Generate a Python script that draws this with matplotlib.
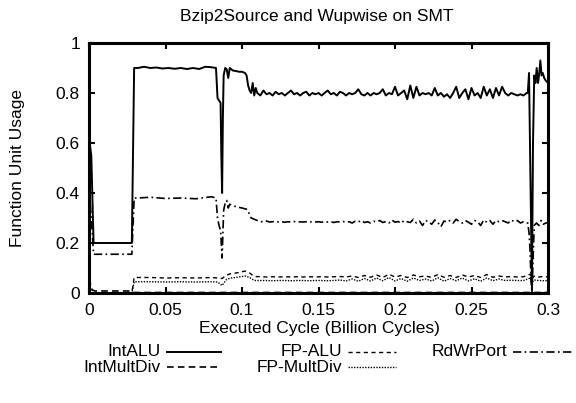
import numpy as np
import matplotlib
matplotlib.use("Agg")
import matplotlib.pyplot as plt
from matplotlib.lines import Line2D

plt.rcParams['font.family'] = ['Liberation Sans', 'DejaVu Sans']

title = "Bzip2Source and Wupwise on SMT"
xlabel = "Executed Cycle (Billion Cycles)"
ylabel = "Function Unit Usage"
xticks = [0, 0.05, 0.1, 0.15, 0.2, 0.25, 0.3]
xticklabels = ["0", "0.05", "0.1", "0.15", "0.2", "0.25", "0.3"]
yticks = [0, 0.2, 0.4, 0.6, 0.8, 1.0]
yticklabels = ["0", "0.2", "0.4", "0.6", "0.8", "1"]

# ---- IntALU ----
intalu_head_x = [0, 0.0015, 0.003, 0.028, 0.0295, 0.032, 0.036, 0.040, 0.044, 0.048,
                 0.052, 0.056, 0.060, 0.064, 0.068, 0.072, 0.076, 0.080, 0.083, 0.084,
                 0.086, 0.0865, 0.087, 0.0875, 0.088, 0.089, 0.090, 0.091, 0.092, 0.094,
                 0.096, 0.098, 0.100, 0.102, 0.103, 0.104, 0.105, 0.106, 0.107, 0.108, 0.109]
intalu_head_y = [0.62, 0.55, 0.20, 0.20, 0.90, 0.90, 0.905, 0.90, 0.902, 0.898,
                 0.90, 0.897, 0.90, 0.896, 0.90, 0.896, 0.905, 0.903, 0.90, 0.78,
                 0.76, 0.55, 0.40, 0.70, 0.87, 0.90, 0.895, 0.86, 0.90, 0.89,
                 0.888, 0.885, 0.885, 0.88, 0.87, 0.83, 0.81, 0.80, 0.84, 0.79, 0.82]
mid_x = np.round(np.arange(0.110, 0.2861, 0.002), 4)
intalu_mid_y = [0.80, 0.79, 0.81, 0.795, 0.80, 0.79, 0.805, 0.795, 0.80, 0.79,
                0.80, 0.81, 0.795, 0.80, 0.79, 0.80, 0.805, 0.79, 0.80, 0.795,
                0.80, 0.79, 0.80, 0.81, 0.795, 0.80, 0.79, 0.805, 0.80, 0.79,
                0.80, 0.795, 0.80, 0.815, 0.795, 0.79, 0.80, 0.79, 0.80, 0.795,
                0.80, 0.815, 0.79, 0.80, 0.795, 0.825, 0.79, 0.80, 0.81, 0.775,
                0.83, 0.78, 0.825, 0.79, 0.80, 0.795, 0.80, 0.79, 0.82, 0.79,
                0.80, 0.785, 0.795, 0.78, 0.80, 0.825, 0.78, 0.80, 0.815, 0.775,
                0.82, 0.79, 0.80, 0.78, 0.825, 0.79, 0.815, 0.78, 0.82, 0.79,
                0.825, 0.80, 0.79, 0.80, 0.795, 0.79, 0.795, 0.79, 0.80]
intalu_tail_x = [0.2868, 0.2876, 0.2882, 0.2895, 0.2902, 0.291, 0.2918, 0.2926, 0.2935,
                 0.2943, 0.295, 0.2958, 0.2966, 0.2975, 0.2985, 0.300]
intalu_tail_y = [0.80, 0.88, 0.60, 0.02, 0.60, 0.87, 0.84, 0.90, 0.84, 0.88,
                 0.93, 0.87, 0.88, 0.86, 0.85, 0.84]

# ---- RdWrPort ----
rdwr_head_x = [0, 0.0015, 0.003, 0.028, 0.0295, 0.032, 0.040, 0.050, 0.060, 0.070,
               0.080, 0.083, 0.084, 0.085, 0.086, 0.087, 0.0875, 0.088, 0.089, 0.090,
               0.091, 0.092, 0.094, 0.096, 0.100, 0.103, 0.104, 0.105, 0.106, 0.108]
rdwr_head_y = [0.42, 0.30, 0.155, 0.155, 0.38, 0.38, 0.383, 0.378, 0.38, 0.377,
               0.385, 0.38, 0.30, 0.27, 0.25, 0.14, 0.24, 0.33, 0.36, 0.37,
               0.34, 0.355, 0.35, 0.345, 0.34, 0.335, 0.33, 0.31, 0.30, 0.295]
rdwr_mid_y = [0.29, 0.285, 0.285, 0.288, 0.284, 0.285, 0.287, 0.284, 0.285, 0.283,
              0.285, 0.284, 0.286, 0.283, 0.285, 0.284, 0.285, 0.283, 0.286, 0.284,
              0.285, 0.283, 0.286, 0.284, 0.285, 0.282, 0.285, 0.284, 0.286, 0.283,
              0.285, 0.28, 0.287, 0.284, 0.29, 0.282, 0.285, 0.28, 0.287, 0.284,
              0.29, 0.282, 0.286, 0.28, 0.292, 0.283, 0.286, 0.279, 0.29, 0.285,
              0.282, 0.295, 0.28, 0.288, 0.27, 0.29, 0.285, 0.275, 0.292, 0.282,
              0.265, 0.288, 0.283, 0.29, 0.28, 0.295, 0.285, 0.28, 0.29, 0.283,
              0.275, 0.29, 0.285, 0.27, 0.292, 0.283, 0.29, 0.275, 0.29, 0.285,
              0.29, 0.285, 0.28, 0.292, 0.285, 0.29, 0.28, 0.285, 0.28]
rdwr_tail_x = [0.2868, 0.2876, 0.2882, 0.2889, 0.2895, 0.2903, 0.291, 0.2925, 0.294,
               0.2955, 0.297, 0.2985, 0.300]
rdwr_tail_y = [0.28, 0.24, 0.18, 0.05, 0.0, 0.15, 0.27, 0.28, 0.27, 0.29, 0.275, 0.28, 0.28]

# ---- bottom series ----
low_head_x = [0, 0.002, 0.004, 0.028, 0.0295, 0.040, 0.050, 0.060, 0.070, 0.080,
              0.084, 0.087, 0.090, 0.093, 0.096, 0.099, 0.102, 0.105, 0.108]
fpalu_head_y = [0.0, 0.0, 0.0, 0.0, 0.062, 0.062, 0.060, 0.061, 0.060, 0.062,
                0.060, 0.058, 0.072, 0.078, 0.080, 0.083, 0.088, 0.080, 0.066]
fpmul_head_y = [0.0, 0.0, 0.0, 0.0, 0.045, 0.045, 0.044, 0.045, 0.044, 0.045,
                0.044, 0.030, 0.055, 0.060, 0.062, 0.065, 0.068, 0.062, 0.050]
intmul_head_y = [0.06, 0.012, 0.008, 0.008, 0.002, 0.002, 0.002, 0.002, 0.002, 0.002,
                 0.002, 0.002, 0.002, 0.002, 0.002, 0.002, 0.002, 0.002, 0.002]
low_x = np.round(np.arange(0.112, 0.2861, 0.004), 4)
fpalu_low_y = [0.065, 0.064, 0.065, 0.064, 0.065, 0.064, 0.065, 0.064, 0.065, 0.064,
               0.065, 0.064, 0.065, 0.066, 0.064, 0.068, 0.062, 0.070, 0.063, 0.072,
               0.062, 0.075, 0.064, 0.070, 0.062, 0.072, 0.065, 0.068, 0.062, 0.074,
               0.063, 0.070, 0.062, 0.072, 0.064, 0.070, 0.062, 0.074, 0.063, 0.068,
               0.064, 0.066, 0.064, 0.065]
fpmul_low_y = [0.050, 0.050, 0.049, 0.050, 0.050, 0.049, 0.050, 0.050, 0.049, 0.050,
               0.050, 0.049, 0.050, 0.052, 0.048, 0.056, 0.047, 0.058, 0.048, 0.060,
               0.049, 0.062, 0.048, 0.058, 0.047, 0.060, 0.050, 0.056, 0.048, 0.061,
               0.047, 0.058, 0.049, 0.060, 0.048, 0.057, 0.047, 0.060, 0.049, 0.056,
               0.050, 0.051, 0.050, 0.050]
intmul_low_y = [0.002] * 44
low_tail_x = [0.2885, 0.2895, 0.291, 0.294, 0.297, 0.300]
fpalu_tail_y = [0.075, 0.055, 0.068, 0.064, 0.066, 0.064]
fpmul_tail_y = [0.060, 0.040, 0.052, 0.050, 0.049, 0.050]
intmul_tail_y = [0.002, 0.002, 0.002, 0.002, 0.002, 0.002]

series_names = ["IntALU", "IntMultDiv", "FP-ALU", "FP-MultDiv", "RdWrPort"]

W, H = 576, 403
FS = 12.5
fig = plt.figure(figsize=(5.76, 4.03), dpi=100)
ax = fig.add_axes([89/W, 1 - 293/H, 459/W, 250/H])

def cat(*parts):
    return np.concatenate([np.asarray(p, dtype=float) for p in parts])

x_alu = cat(intalu_head_x, mid_x, intalu_tail_x)
y_alu = cat(intalu_head_y, intalu_mid_y, intalu_tail_y)
x_rd = cat(rdwr_head_x, mid_x, rdwr_tail_x)
y_rd = cat(rdwr_head_y, rdwr_mid_y, rdwr_tail_y)
x_low = cat(low_head_x, low_x, low_tail_x)

styles = {
    "IntALU": dict(ls='-', lw=1.4),
    "IntMultDiv": dict(ls=(0, (4, 2.5)), lw=1.2),
    "FP-ALU": dict(ls=(0, (3, 2.5)), lw=1.0),
    "FP-MultDiv": dict(ls=(0, (1, 1)), lw=1.0),
    "RdWrPort": dict(ls=(0, (5, 2, 1, 2)), lw=1.2),
}

ax.plot(x_alu, y_alu, color='black', **styles["IntALU"])
ax.plot(x_low, cat(intmul_head_y, intmul_low_y, intmul_tail_y), color='black', **styles["IntMultDiv"])
ax.plot(x_low, cat(fpalu_head_y, fpalu_low_y, fpalu_tail_y), color='black', **styles["FP-ALU"])
ax.plot(x_low, cat(fpmul_head_y, fpmul_low_y, fpmul_tail_y), color='black', **styles["FP-MultDiv"])
ax.plot(x_rd, y_rd, color='black', **styles["RdWrPort"])

ax.set_xlim(0, 0.3)
ax.set_ylim(0, 1)
ax.set_xticks(xticks)
ax.set_xticklabels(xticklabels)
ax.set_yticks(yticks)
ax.set_yticklabels(yticklabels)
ax.tick_params(direction='in', top=True, right=True, length=4, width=1.5,
               labelsize=FS)
ax.tick_params(axis='x', pad=7)
ax.tick_params(axis='y', pad=6.5)
for sp in ax.spines.values():
    sp.set_linewidth(2.2)

fig.text(316.5 / W, 1 - 16 / H, title, ha='center', va='center', fontsize=FS)
fig.text(319 / W, 1 - 329 / H, xlabel, ha='center', va='center', fontsize=FS)
fig.text(18 / W, 1 - 168 / H, ylabel, ha='center', va='center', rotation=90, fontsize=FS)

# gnuplot-style legend below plot
entries = [
    ("IntALU", 161, 352, 167, 221),
    ("IntMultDiv", 161, 367, 167, 221),
    ("FP-ALU", 342, 352, 348, 396),
    ("FP-MultDiv", 342, 367, 348, 396),
    ("RdWrPort", 507, 352, 513, 574),
]
for name, tx, ty, lx0, lx1 in entries:
    fig.text(tx / W, 1 - ty / H, name, ha='right', va='center', fontsize=FS)
    fig.add_artist(Line2D([lx0 / W, lx1 / W], [1 - ty / H, 1 - ty / H],
                          color='black', transform=fig.transFigure, **styles[name]))

fig.savefig("out.png", dpi=100)
